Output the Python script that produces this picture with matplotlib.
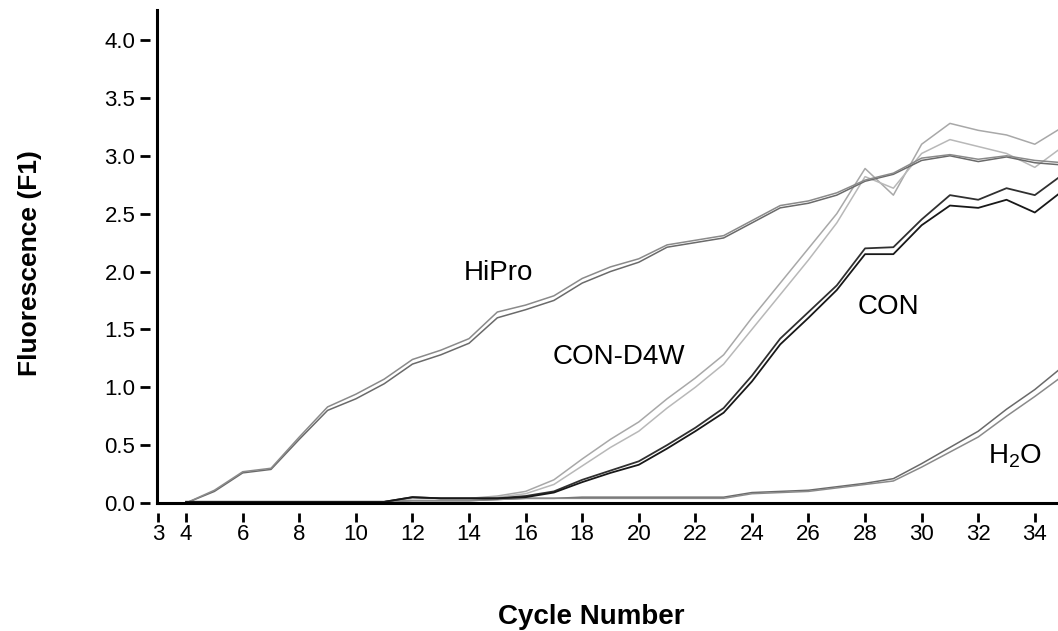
import numpy as np
import matplotlib
matplotlib.use("Agg")
import matplotlib.pyplot as plt

plt.rcParams['font.family'] = ['Liberation Sans', 'DejaVu Sans']
plt.rcParams['mathtext.default'] = 'regular'

cycles = np.arange(4, 36)

# HiPro replicates
hipro_a = [0.00, 0.10, 0.26, 0.29, 0.55, 0.80, 0.90, 1.03, 1.20, 1.28, 1.38, 1.60,
           1.67, 1.75, 1.90, 2.00, 2.08, 2.21, 2.25, 2.29, 2.42, 2.55, 2.59, 2.66,
           2.78, 2.84, 2.96, 3.00, 2.95, 2.99, 2.94, 2.92]
hipro_b = [0.00, 0.11, 0.27, 0.30, 0.57, 0.83, 0.94, 1.07, 1.24, 1.32, 1.42, 1.65,
           1.71, 1.79, 1.94, 2.04, 2.11, 2.23, 2.27, 2.31, 2.44, 2.57, 2.61, 2.68,
           2.79, 2.85, 2.98, 3.01, 2.97, 3.00, 2.96, 2.94]

# CON-D4W replicates
d4w_a = [0.01, 0.01, 0.01, 0.01, 0.01, 0.01, 0.01, 0.01, 0.04, 0.04, 0.04, 0.06,
         0.10, 0.20, 0.38, 0.55, 0.70, 0.90, 1.08, 1.28, 1.60, 1.90, 2.20, 2.50,
         2.89, 2.66, 3.10, 3.28, 3.22, 3.18, 3.10, 3.25]
d4w_b = [0.01, 0.01, 0.01, 0.01, 0.01, 0.01, 0.01, 0.01, 0.04, 0.04, 0.04, 0.05,
         0.08, 0.16, 0.32, 0.48, 0.62, 0.82, 1.00, 1.20, 1.50, 1.80, 2.10, 2.42,
         2.82, 2.72, 3.02, 3.14, 3.08, 3.02, 2.90, 3.08]

# CON replicates
con_a = [0.01, 0.01, 0.01, 0.01, 0.01, 0.01, 0.01, 0.01, 0.05, 0.04, 0.04, 0.04,
         0.06, 0.10, 0.20, 0.28, 0.36, 0.50, 0.65, 0.82, 1.10, 1.42, 1.65, 1.88,
         2.20, 2.21, 2.45, 2.66, 2.62, 2.72, 2.66, 2.84]
con_b = [0.01, 0.01, 0.01, 0.01, 0.01, 0.01, 0.01, 0.01, 0.05, 0.04, 0.04, 0.04,
         0.05, 0.09, 0.18, 0.26, 0.33, 0.47, 0.62, 0.78, 1.05, 1.37, 1.60, 1.84,
         2.15, 2.15, 2.40, 2.57, 2.55, 2.62, 2.51, 2.70]

# H2O replicates
h2o_a = [0.01, 0.01, 0.01, 0.01, 0.01, 0.01, 0.01, 0.01, 0.02, 0.02, 0.02, 0.03,
         0.04, 0.04, 0.05, 0.05, 0.05, 0.05, 0.05, 0.05, 0.09, 0.10, 0.11, 0.14,
         0.17, 0.21, 0.34, 0.48, 0.62, 0.81, 0.98, 1.18]
h2o_b = [0.01, 0.01, 0.01, 0.01, 0.01, 0.01, 0.01, 0.01, 0.02, 0.02, 0.02, 0.03,
         0.04, 0.04, 0.04, 0.04, 0.04, 0.04, 0.04, 0.04, 0.08, 0.09, 0.10, 0.13,
         0.16, 0.19, 0.31, 0.44, 0.57, 0.75, 0.92, 1.10]

xticks = [3, 4, 6, 8, 10, 12, 14, 16, 18, 20, 22, 24, 26, 28, 30, 32, 34]
yticks = [0.0, 0.5, 1.0, 1.5, 2.0, 2.5, 3.0, 3.5, 4.0]

fig = plt.figure(figsize=(10.58, 6.31), dpi=100)
ax = fig.add_axes([0.1484, 0.2029, 0.8516, 0.7813])

ax.plot(cycles, d4w_a, color='#a8a8a8', lw=1.1)
ax.plot(cycles, d4w_b, color='#b8b8b8', lw=1.1)
ax.plot(cycles, hipro_a, color='#6a6a6a', lw=1.1)
ax.plot(cycles, hipro_b, color='#8a8a8a', lw=1.1)
ax.plot(cycles, h2o_a, color='#6a6a6a', lw=1.1)
ax.plot(cycles, h2o_b, color='#8a8a8a', lw=1.1)
ax.plot(cycles, con_a, color='#303030', lw=1.3)
ax.plot(cycles, con_b, color='#181818', lw=1.3)

ax.set_xlim(2.97, 34.82)
ax.set_ylim(0, 4.26)

for s in ['top', 'right']:
    ax.spines[s].set_visible(False)
ax.spines['left'].set_position(('outward', 5))
ax.spines['bottom'].set_position(('outward', 7))
ax.spines['left'].set_visible(False)
ax.spines['bottom'].set_visible(False)

# axis lines drawn on the axes edges, ticks sit apart from them
ax.plot([0, 0], [0, 1], transform=ax.transAxes, color='black', lw=2.2, clip_on=False)
ax.plot([0, 1], [0, 0], transform=ax.transAxes, color='black', lw=2.2, clip_on=False)

ax.set_xticks(xticks)
ax.set_yticks(yticks)
ax.set_yticklabels([f'{v:.1f}' for v in yticks])
ax.tick_params(axis='x', direction='out', length=6.5, width=2, pad=1.5, labelsize=16)
ax.tick_params(axis='y', direction='out', length=7, width=2, pad=3.5, labelsize=16)

fig.text(591 / 1058, (631 - 624) / 631, 'Cycle Number', fontsize=20,
         fontweight='bold', ha='center', va='baseline')
fig.text(30 / 1058, 1 - 263 / 631, 'Fluorescence (F1)', fontsize=19,
         fontweight='bold', ha='center', va='center', rotation=90)

ax.text(15.05, 1.99, 'HiPro', fontsize=20, ha='center', va='center')
ax.text(19.3, 1.26, 'CON-D4W', fontsize=20, ha='center', va='center')
ax.text(28.84, 1.69, 'CON', fontsize=20, ha='center', va='center')
ax.text(33.3, 0.40, 'H$_2$O', fontsize=20, ha='center', va='center')

fig.savefig('out.png', dpi=100)
